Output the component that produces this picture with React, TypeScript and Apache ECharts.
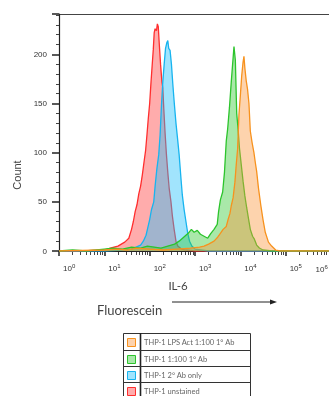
import { useEffect, useRef } from 'react';
import * as echarts from 'echarts';

// Fluorescence histogram data: bin position (log10 of intensity) and count
const RED_LOG = [0, 0.5, 1.0, 1.13, 1.3, 1.45, 1.54, 1.6, 1.64, 1.68, 1.72, 1.76, 1.8, 1.84, 1.88, 1.91, 1.94, 1.97, 2.0, 2.03, 2.06, 2.08, 2.1, 2.12, 2.15, 2.17, 2.19, 2.21, 2.24, 2.27, 2.29, 2.31, 2.34, 2.37, 2.4, 2.43, 2.47, 2.5, 2.54, 2.58, 2.62, 2.7, 2.8, 3.0, 6.0];
const RED_COUNT = [0, 0, 1, 3, 5, 9, 13, 22, 30, 40, 47, 58, 66, 78, 92, 102, 118, 135, 150, 172, 192, 205, 222, 226, 224, 231, 228, 212, 190, 172, 166, 146, 120, 98, 80, 64, 50, 36, 22, 10, 5, 2, 1, 0, 0];

const BLUE_LOG = [0, 1.0, 1.4, 1.6, 1.7, 1.8, 1.86, 1.92, 1.95, 2.0, 2.04, 2.09, 2.12, 2.16, 2.2, 2.23, 2.26, 2.29, 2.32, 2.35, 2.38, 2.4, 2.42, 2.45, 2.48, 2.51, 2.54, 2.58, 2.62, 2.65, 2.69, 2.72, 2.76, 2.8, 2.84, 2.88, 2.93, 3.0, 3.3, 6.0];
const BLUE_COUNT = [0, 0, 1, 2, 4, 6, 10, 16, 22, 32, 42, 50, 66, 84, 98, 118, 148, 172, 190, 206, 212, 214, 206, 204, 190, 170, 152, 130, 112, 98, 74, 57, 42, 30, 18, 10, 5, 2, 0, 0];

const GREEN_LOG = [0, 0.3, 0.6, 1.0, 1.2, 1.4, 1.6, 1.8, 1.95, 2.1, 2.25, 2.4, 2.55, 2.65, 2.75, 2.85, 2.92, 2.98, 3.05, 3.12, 3.2, 3.28, 3.35, 3.42, 3.49, 3.52, 3.56, 3.61, 3.65, 3.69, 3.72, 3.76, 3.8, 3.83, 3.86, 3.89, 3.92, 3.95, 3.98, 4.02, 4.06, 4.1, 4.14, 4.18, 4.22, 4.27, 4.31, 4.36, 4.42, 4.5, 4.7, 6.0];
const GREEN_COUNT = [0, 1, 0, 2, 3, 2, 4, 3, 5, 4, 3, 5, 7, 10, 14, 18, 22, 19, 21, 17, 15, 13, 18, 22, 27, 40, 52, 60, 80, 112, 124, 146, 172, 190, 208, 194, 140, 124, 105, 88, 71, 56, 44, 33, 22, 15, 12, 6, 3, 1, 0, 0];

const ORANGE_LOG = [0, 1.0, 1.3, 1.5, 1.7, 2.0, 2.3, 2.6, 2.9, 3.1, 3.2, 3.3, 3.42, 3.5, 3.56, 3.62, 3.69, 3.73, 3.77, 3.8, 3.84, 3.88, 3.91, 3.94, 3.97, 4.0, 4.03, 4.06, 4.08, 4.1, 4.13, 4.16, 4.19, 4.22, 4.26, 4.3, 4.33, 4.36, 4.4, 4.45, 4.5, 4.55, 4.62, 4.69, 4.78, 4.88, 6.0];
const ORANGE_COUNT = [0, 1, 2, 1, 3, 2, 1, 2, 3, 4, 5, 7, 10, 14, 18, 22, 25, 32, 38, 46, 54, 70, 88, 104, 139, 158, 178, 192, 198, 186, 173, 164, 150, 122, 110, 100, 90, 81, 64, 47, 32, 19, 9, 5, 1, 0, 0];

const SERIES_NAMES = ['THP-1 unstained', 'THP-1 2° Ab only', 'THP-1 1:100 1° Ab', 'THP-1 LPS Act 1:100 1° Ab'];
const LEGEND_ORDER = ['THP-1 LPS Act 1:100 1° Ab', 'THP-1 1:100 1° Ab', 'THP-1 2° Ab only', 'THP-1 unstained'];
const MINOR_MULTIPLIERS = [2, 3, 4, 5, 6, 7, 8, 9];
const DECADES = [0, 1, 2, 3, 4, 5];

const LINE_COLORS: Record<string, string> = {
  'THP-1 unstained': '#ff2e2e',
  'THP-1 2° Ab only': '#17b4ef',
  'THP-1 1:100 1° Ab': '#2cc42c',
  'THP-1 LPS Act 1:100 1° Ab': '#f7921e',
};
const FILL_COLORS: Record<string, string> = {
  'THP-1 unstained': 'rgba(255,70,70,0.45)',
  'THP-1 2° Ab only': 'rgba(30,190,250,0.42)',
  'THP-1 1:100 1° Ab': 'rgba(50,200,50,0.42)',
  'THP-1 LPS Act 1:100 1° Ab': 'rgba(250,150,60,0.42)',
};

const toPairs = (logs: number[], counts: number[]) => logs.map((l, i) => [Math.pow(10, l), counts[i]]);

export default function App() {
  const ref = useRef<HTMLDivElement>(null);
  useEffect(() => {
    if (!ref.current) return;
    const chart = echarts.init(ref.current, undefined, { renderer: 'svg' });
    const datas = [
      toPairs(RED_LOG, RED_COUNT),
      toPairs(BLUE_LOG, BLUE_COUNT),
      toPairs(GREEN_LOG, GREEN_COUNT),
      toPairs(ORANGE_LOG, ORANGE_COUNT),
    ];
    const minorTicks: number[] = [];
    DECADES.forEach((d) => MINOR_MULTIPLIERS.forEach((m) => minorTicks.push(d + Math.log10(m))));

    const supRich = { s: { fontSize: 6, verticalAlign: 'top', padding: [0, 0, 5, 0], fill: '#333', color: '#333', fontFamily: 'Liberation Sans' } };

    const rowTops = [333, 350, 366, 382];
    const legendGraphics: any[] = [
      { type: 'rect', shape: { x: 123.5, y: 333.5, width: 127, height: 70 }, style: { fill: '#fff', stroke: '#333', lineWidth: 1 } },
      { type: 'line', shape: { x1: 140.5, y1: 333, x2: 140.5, y2: 400 }, style: { stroke: '#222', lineWidth: 1.6 } },
    ];
    [350, 366, 382].forEach((y) => {
      legendGraphics.push({ type: 'line', shape: { x1: 123, y1: y + 0.5, x2: 251, y2: y + 0.5 }, style: { stroke: '#333', lineWidth: 1 } });
    });
    LEGEND_ORDER.forEach((name, i) => {
      const top = rowTops[i];
      legendGraphics.push({
        type: 'rect',
        shape: { x: 127.5, y: top + 5.5, width: 8, height: 8 },
        style: { fill: FILL_COLORS[name], stroke: LINE_COLORS[name], lineWidth: 1 },
      });
      legendGraphics.push({
        type: 'text',
        x: 144,
        y: top + 9.5,
        style: { text: name, fontSize: 7.5, fontFamily: 'Lato', fill: '#666', verticalAlign: 'middle' },
      });
    });

    chart.setOption({
      animation: false,
      grid: { left: 59, top: 14, right: -2, bottom: 145, outerBoundsMode: 'none', containLabel: false },
      xAxis: [
        {
          type: 'log',
          min: 1,
          max: 1000000,
          logBase: 10,
          interval: 1,
          position: 'bottom',
          offset: 1,
          axisLine: { show: true, lineStyle: { color: '#222', width: 1.2 } },
          axisTick: { show: true, length: 5, lineStyle: { color: '#222', width: 1.5 } },
          axisLabel: {
            show: true,
            showMaxLabel: false,
            margin: 11,
            align: 'left',
            padding: [0, 0, 0, 4],
            color: '#333',
            fontSize: 8,
            fontFamily: 'Liberation Sans',
            formatter: (v: number) => `10{s|${Math.round(Math.log10(v))}}`,
            rich: supRich,
          },
          splitLine: { show: false },
        },
        {
          type: 'value',
          min: 0,
          max: 6,
          position: 'bottom',
          offset: 1,
          axisLine: { show: false },
          axisTick: { show: true, length: 3, customValues: minorTicks, lineStyle: { color: '#444', width: 1 } },
          axisLabel: { show: false },
          splitLine: { show: false },
        },
      ],
      yAxis: {
        type: 'value',
        min: 0,
        max: 241,
        interval: 50,
        axisLine: { show: true, lineStyle: { color: '#222', width: 1.2 } },
        axisTick: { show: true, length: 7, lineStyle: { color: '#222', width: 1.5 } },
        minorTick: { show: true, splitNumber: 5, length: 3, lineStyle: { color: '#444', width: 1 } },
        axisLabel: { margin: 12, color: '#333', fontSize: 8, fontFamily: 'Liberation Sans', showMaxLabel: false },
        splitLine: { show: false },
      },
      series: SERIES_NAMES.map((name, i) => ({
        name,
        type: 'line',
        xAxisIndex: 0,
        data: datas[i],
        symbol: 'none',
        showSymbol: false,
        lineStyle: { color: LINE_COLORS[name], width: 1.3 },
        areaStyle: { color: FILL_COLORS[name], opacity: 1 },
        z: 2 + i,
      })),
      graphic: [
        { type: 'line', shape: { x1: 59, y1: 14.5, x2: 329, y2: 14.5 }, style: { stroke: '#444', lineWidth: 1 } },
        {
          type: 'text',
          x: 315.5,
          y: 264,
          style: { text: '10{s|6}', rich: supRich, fontSize: 8, fontFamily: 'Liberation Sans', fill: '#333', align: 'left', verticalAlign: 'top' },
        },
        {
          type: 'text',
          x: 17,
          y: 175,
          rotation: Math.PI / 2,
          style: { text: 'Count', fontSize: 11, fontFamily: 'Liberation Sans', fill: '#444', align: 'center', verticalAlign: 'middle' },
        },
        { type: 'text', x: 178, y: 285, style: { text: 'IL-6', fontSize: 11.5, fontFamily: 'Lato', fill: '#444', align: 'center', verticalAlign: 'middle' } },
        { type: 'text', x: 97, y: 310, style: { text: 'Fluorescein', fontSize: 13, fontFamily: 'Lato', fill: '#444', align: 'left', verticalAlign: 'middle' } },
        { type: 'line', shape: { x1: 172, y1: 302, x2: 272, y2: 302 }, style: { stroke: '#222', lineWidth: 1 } },
        { type: 'polygon', shape: { points: [[277, 302], [270, 299.5], [270, 304.5]] }, style: { fill: '#222' } },
        ...legendGraphics,
      ],
    });
    return () => chart.dispose();
  }, []);
  return <div ref={ref} style={{ position: 'fixed', left: 0, top: 0, width: 329, height: 396 }} />;
}
